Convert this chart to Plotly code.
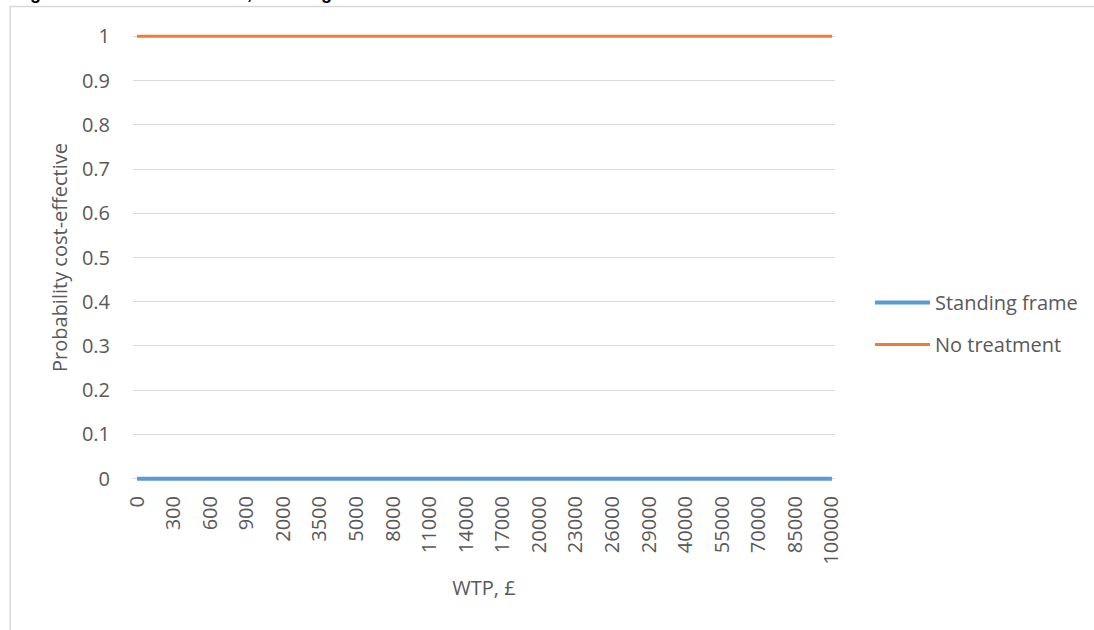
import plotly.graph_objects as go

wtp = [0, 100, 200, 300, 400, 500, 600, 700, 800, 900, 1000, 1500, 2000, 2500, 3000, 3500,
       4000, 4500, 5000, 6000, 7000, 8000, 9000, 10000, 11000, 12000, 13000, 14000, 15000,
       16000, 17000, 18000, 19000, 20000, 21000, 22000, 23000, 24000, 25000, 26000, 27000,
       28000, 29000, 30000, 35000, 40000, 45000, 50000, 55000, 60000, 65000, 70000, 75000,
       80000, 85000, 90000, 95000, 100000]
categories = [str(v) for v in wtp]
standing_frame = [0.0] * len(wtp)
no_treatment = [1.0] * len(wtp)
label_cats = categories[::3]
y_ticks = [0, 0.1, 0.2, 0.3, 0.4, 0.5, 0.6, 0.7, 0.8, 0.9, 1]
y_ticktext = ["0", "0.1", "0.2", "0.3", "0.4", "0.5", "0.6", "0.7", "0.8", "0.9", "1"]
title_text = "Figure 40: CEAC base case, standing frame"

FONT = "Open Sans"
GREY = "#595959"
FS = 20

fig = go.Figure()
fig.add_trace(go.Scatter(x=categories, y=standing_frame, mode="lines", name="Standing frame",
                         line=dict(color="#5B9BD5", width=4), legendgroup="a"))
fig.add_trace(go.Scatter(x=categories, y=no_treatment, mode="lines", name="No treatment",
                         line=dict(color="#ED7D31", width=3), legendgroup="b"))

L, R, T, B = 133, 258, 31, 146
W, H = 1094, 630
pw = W - L - R
ph = H - T - B

def px(x):
    return (x - L) / pw

def py(y):
    return (H - B - y) / ph

fig.update_layout(
    width=W, height=H,
    margin=dict(l=L, r=R, t=T, b=B),
    paper_bgcolor="white", plot_bgcolor="white",
    font=dict(family=FONT, size=FS, color=GREY),
    xaxis=dict(type="category", categoryorder="array", categoryarray=categories,
               range=[-0.33, 57.25], tickmode="array", tickvals=label_cats, ticktext=label_cats,
               tickangle=-90, showgrid=False, zeroline=False, showline=False, ticks="",
               ticklabelstandoff=7,
               title=dict(text="WTP, £", standoff=17, font=dict(size=FS, color=GREY))),
    yaxis=dict(range=[-0.012, 1.012], tickmode="array", tickvals=y_ticks, ticktext=y_ticktext,
               showgrid=True, gridcolor="#D9D9D9", gridwidth=1, zeroline=False, showline=False,
               ticks="", ticklabelstandoff=22,
               title=dict(text="Probability cost-effective", standoff=8, font=dict(size=FS, color=GREY))),
    legend=dict(x=px(870), y=py(283), xanchor="left", yanchor="top",
                traceorder="grouped", tracegroupgap=13, itemwidth=55,
                font=dict(size=FS, color=GREY), bgcolor="rgba(0,0,0,0)"),
    showlegend=True,
)

# outer chart border (top and left edges visible)
fig.add_shape(type="rect", xref="paper", yref="paper",
              x0=px(10), x1=px(1110), y0=py(650), y1=py(6.5),
              line=dict(color="#D9D9D9", width=1.5), fillcolor="rgba(0,0,0,0)", layer="below")

# title, clipped at the top edge as in the reference
fig.add_annotation(text="<b>" + title_text + "</b>", xref="paper", yref="paper",
                   x=px(12), y=py(5), xanchor="left", yanchor="bottom", showarrow=False,
                   font=dict(family="Liberation Sans", size=18, color="black"))

fig.write_html("out.html", config={"displayModeBar": False},
               post_script="document.body.style.margin='0';")
